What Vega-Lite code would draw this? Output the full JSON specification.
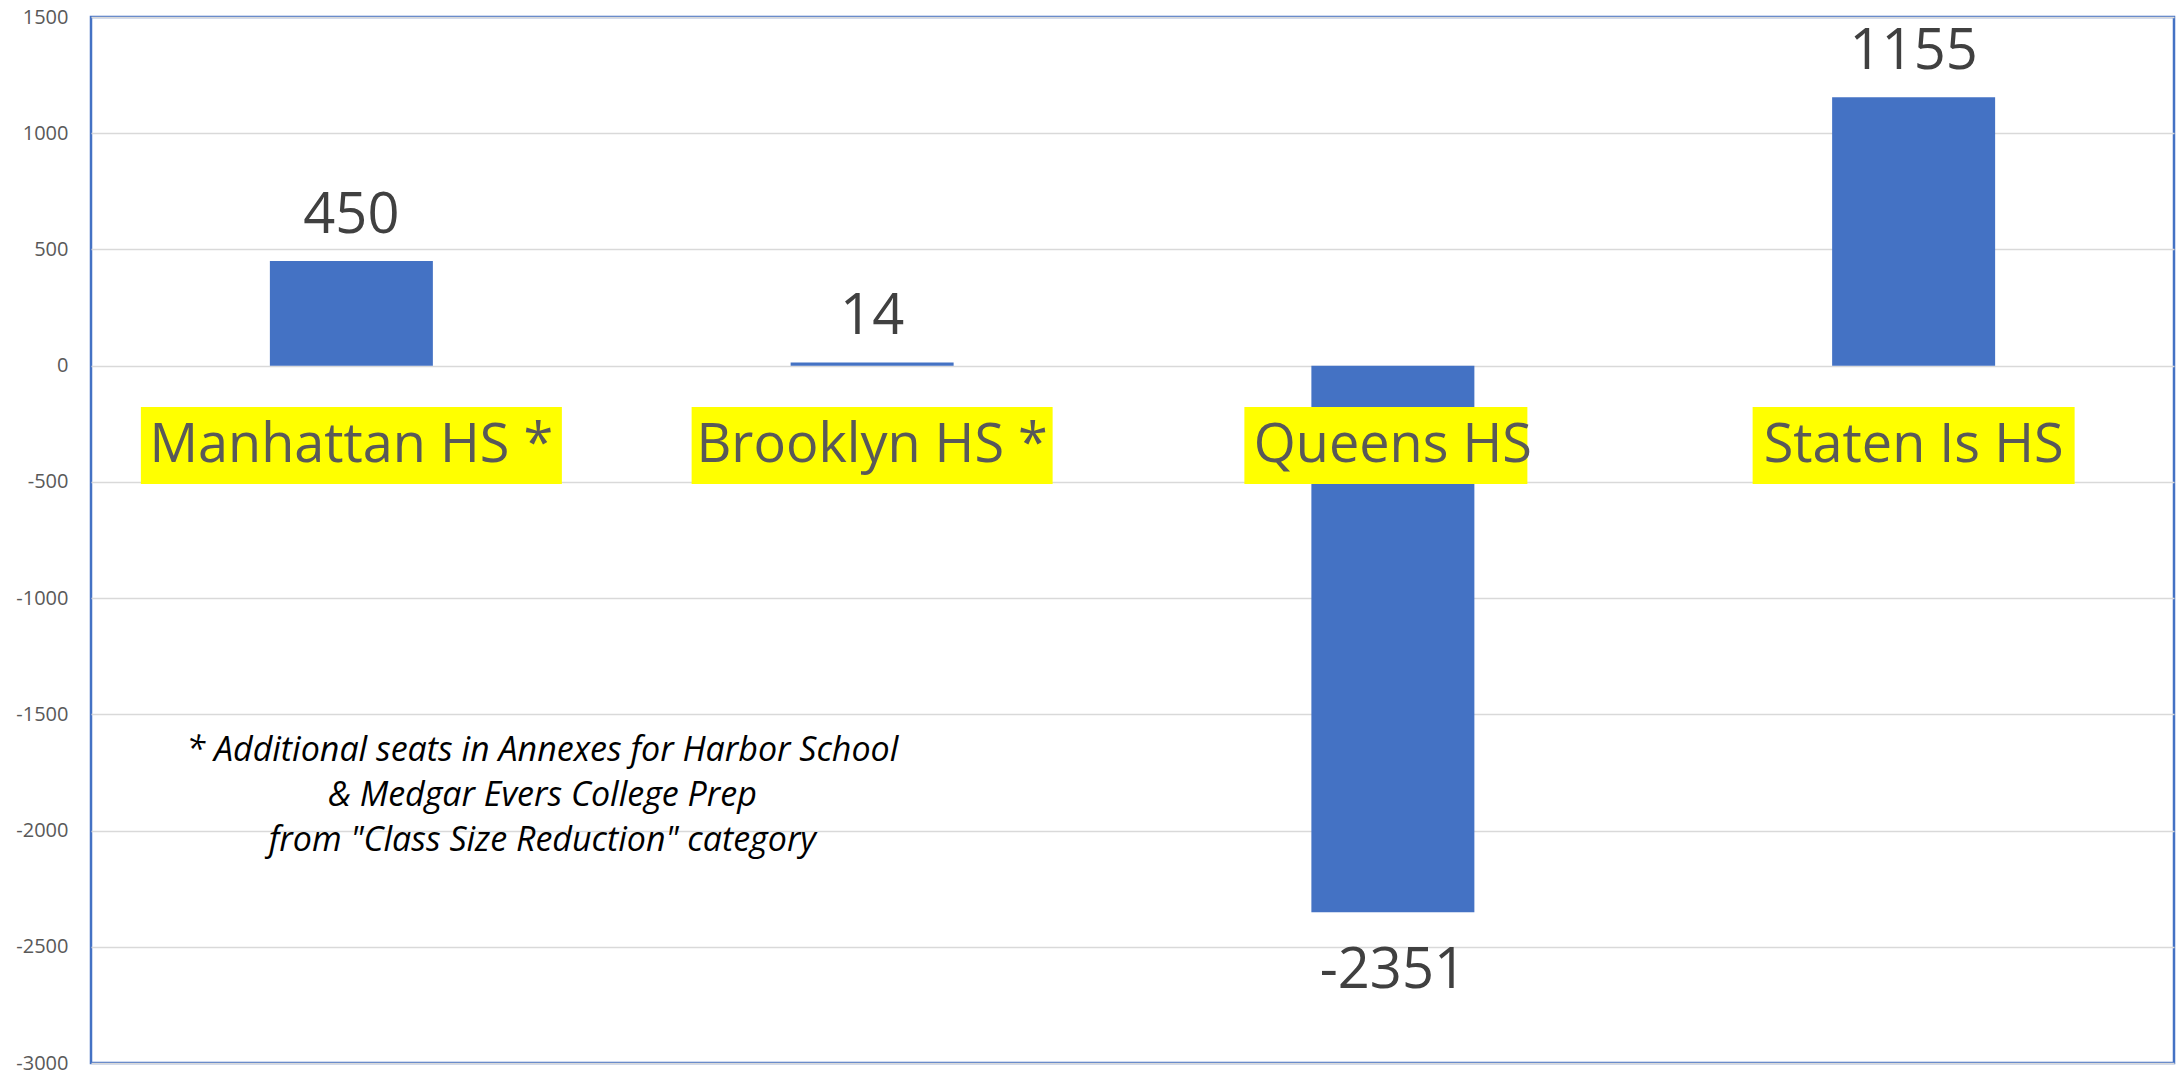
{
  "$schema": "https://vega.github.io/schema/vega-lite/v6.json",
  "autosize": {"type": "none"},
  "width": 2083,
  "height": 1046,
  "padding": {"left": 91, "top": 17, "right": 2, "bottom": 11},
  "background": "white",
  "config": {
    "view": {"stroke": "#4472C4", "strokeWidth": 2.5},
    "font": "Open Sans"
  },
  "data": {
    "values": [
      {"school": "Manhattan HS *", "seats": 450},
      {"school": "Brooklyn HS *", "seats": 14},
      {"school": "Queens HS", "seats": -2351},
      {"school": "Staten Is HS", "seats": 1155}
    ]
  },
  "transform": [{"calculate": "'' + datum.seats", "as": "seatsLabel"}],
  "encoding": {
    "x": {
      "field": "school", "type": "nominal", "sort": null,
      "scale": {"paddingInner": 0.687, "paddingOuter": 0.3435},
      "axis": null
    }
  },
  "layer": [
    {
      "mark": {"type": "bar", "color": "#4472C4"},
      "encoding": {
        "y": {
          "field": "seats", "type": "quantitative",
          "scale": {"domain": [-3000, 1500], "nice": false, "zero": false},
          "axis": {
            "title": null,
            "values": [-3000, -2500, -2000, -1500, -1000, -500, 0, 500, 1000, 1500],
            "labelExpr": "'' + datum.value",
            "labelFontSize": 20,
            "labelColor": "#595959",
            "labelPadding": 23,
            "ticks": false,
            "domain": false,
            "gridColor": "#d9d9d9",
            "gridWidth": 1.5
          }
        }
      }
    },
    {
      "transform": [{"filter": "datum.seats >= 0"}],
      "mark": {"type": "text", "fontSize": 56, "color": "#404040", "baseline": "alphabetic", "dy": -28},
      "encoding": {
        "y": {"field": "seats", "type": "quantitative"},
        "text": {"field": "seatsLabel", "type": "nominal"}
      }
    },
    {
      "transform": [{"filter": "datum.seats < 0"}],
      "mark": {"type": "text", "fontSize": 56, "color": "#404040", "baseline": "alphabetic", "dy": 76},
      "encoding": {
        "y": {"field": "seats", "type": "quantitative"},
        "text": {"field": "seatsLabel", "type": "nominal"}
      }
    },
    {
      "transform": [{"filter": "datum.school == 'Manhattan HS *'"}],
      "mark": {"type": "bar", "color": "#FFFF00", "width": 421},
      "encoding": {"y": {"datum": -178}, "y2": {"datum": -509}}
    },
    {
      "transform": [{"filter": "datum.school == 'Brooklyn HS *'"}],
      "mark": {"type": "bar", "color": "#FFFF00", "width": 361},
      "encoding": {"y": {"datum": -178}, "y2": {"datum": -509}}
    },
    {
      "transform": [{"filter": "datum.school == 'Queens HS'"}],
      "mark": {"type": "bar", "color": "#FFFF00", "width": 283, "xOffset": -7},
      "encoding": {"y": {"datum": -178}, "y2": {"datum": -509}}
    },
    {
      "transform": [{"filter": "datum.school == 'Staten Is HS'"}],
      "mark": {"type": "bar", "color": "#FFFF00", "width": 322},
      "encoding": {"y": {"datum": -178}, "y2": {"datum": -509}}
    },
    {
      "mark": {"type": "text", "fontSize": 54, "color": "#595959", "baseline": "middle"},
      "encoding": {
        "y": {"datum": -345},
        "text": {"field": "school", "type": "nominal"}
      }
    },
    {
      "data": {"values": [{"school": "Manhattan HS *", "note": "* Additional seats in Annexes for  Harbor School|& Medgar Evers College Prep|from \"Class Size Reduction\" category"}]},
      "transform": [],
      "mark": {"type": "text", "fontSize": 34, "fontStyle": "italic", "color": "#000000", "baseline": "middle", "lineBreak": "|", "lineHeight": 45, "dx": 191},
      "encoding": {
        "y": {"datum": -1658},
        "text": {"field": "note", "type": "nominal"}
      }
    }
  ]
}
